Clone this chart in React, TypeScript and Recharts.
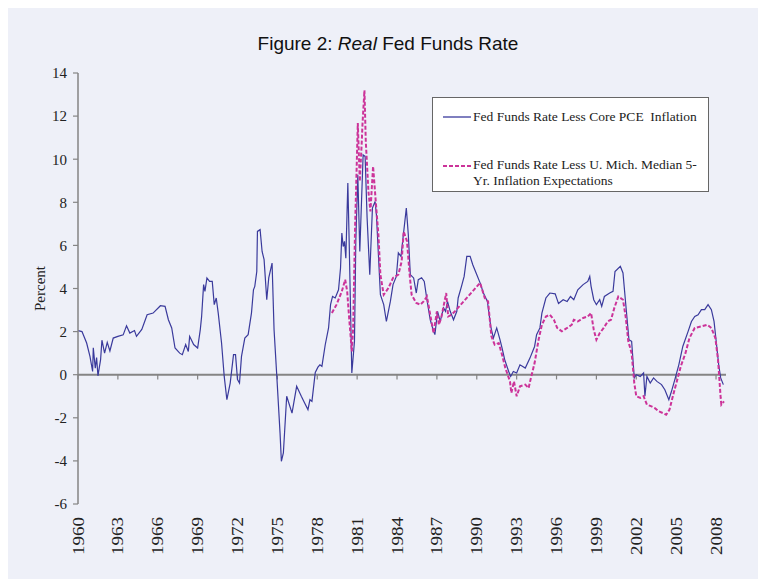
import React from 'react';
import { LineChart, Line, XAxis, YAxis, ReferenceLine, Legend } from 'recharts';

const chartTitle = 'Fed Funds Rate';
const seriesNames = [
  'Fed Funds Rate Less Core PCE  Inflation',
  'Fed Funds Rate Less U. Mich. Median 5-',
  'Yr. Inflation Expectations',
];
const yAxisLabel = 'Percent';

const xTicks = [1960, 1963, 1966, 1969, 1972, 1975, 1978, 1981, 1984, 1987, 1990, 1993, 1996, 1999, 2002, 2005, 2008];
const yTicks = [-6, -4, -2, 0, 2, 4, 6, 8, 10, 12, 14];

const pceYears = [
  1960.0, 1960.3, 1960.65, 1960.9, 1961.1, 1961.15, 1961.3, 1961.4, 1961.5, 1961.7, 1961.8, 1962.0, 1962.2, 1962.4, 1962.65,
  1963.0, 1963.4, 1963.65, 1963.9, 1964.25, 1964.4, 1964.8, 1965.2, 1965.65, 1966.2, 1966.55, 1966.8, 1967.05, 1967.3, 1967.65,
  1967.85, 1968.1, 1968.3, 1968.4, 1968.7, 1969.0, 1969.2, 1969.3, 1969.45, 1969.55, 1969.7, 1969.9, 1970.1, 1970.25, 1970.4,
  1970.55, 1970.8, 1971.0, 1971.2, 1971.45, 1971.7, 1971.85, 1972.0, 1972.15, 1972.3, 1972.55, 1972.8, 1973.05, 1973.2, 1973.3,
  1973.45, 1973.5, 1973.7, 1973.85, 1974.0, 1974.2, 1974.35, 1974.6, 1974.75, 1974.95, 1975.2, 1975.3, 1975.45, 1975.7, 1976.1,
  1976.45, 1976.8, 1977.05, 1977.3, 1977.45, 1977.6, 1977.85, 1978.05, 1978.2, 1978.35, 1978.6, 1978.85, 1979.0, 1979.15, 1979.35,
  1979.6, 1979.75, 1979.85, 1979.95, 1980.05, 1980.15, 1980.3, 1980.4, 1980.6, 1980.8, 1980.9, 1981.05, 1981.2, 1981.45, 1981.6,
  1981.75, 1981.95, 1982.15, 1982.35, 1982.45, 1982.65, 1982.75, 1983.0, 1983.2, 1983.5, 1983.7, 1983.95, 1984.1, 1984.3, 1984.45,
  1984.7, 1984.85, 1985.0, 1985.25, 1985.45, 1985.6, 1985.85, 1986.05, 1986.25, 1986.5, 1986.75, 1986.85, 1987.05, 1987.25, 1987.5,
  1987.65, 1987.8, 1988.0, 1988.25, 1988.5, 1988.6, 1988.85, 1989.05, 1989.25, 1989.5, 1989.7, 1989.95, 1990.25, 1990.5, 1990.8,
  1991.05, 1991.25, 1991.5, 1991.75, 1991.9, 1992.1, 1992.4, 1992.55, 1992.75, 1993.0, 1993.25, 1993.65, 1994.0, 1994.35, 1994.5,
  1994.75, 1994.9, 1995.2, 1995.5, 1995.9, 1996.15, 1996.5, 1996.8, 1997.05, 1997.3, 1997.6, 1998.0, 1998.35, 1998.5, 1998.6,
  1998.8, 1999.0, 1999.25, 1999.4, 1999.6, 2000.0, 2000.25, 2000.4, 2000.8, 2001.0, 2001.2, 2001.45, 2001.65, 2001.85, 2002.0,
  2002.3, 2002.55, 2002.65, 2002.8, 2003.05, 2003.3, 2003.55, 2003.9, 2004.15, 2004.45, 2004.65, 2004.9, 2005.2, 2005.5, 2005.9,
  2006.15, 2006.4, 2006.65, 2006.9, 2007.15, 2007.4, 2007.65, 2007.85, 2008.0, 2008.2, 2008.35, 2008.55,
];
const pceValues = [
  2.05, 2.0, 1.47, 0.85, 0.15, 1.25, 0.3, 0.8, -0.05, 0.7, 1.6, 1.0, 1.5, 1.1, 1.7,
  1.78, 1.85, 2.27, 1.93, 2.05, 1.78, 2.1, 2.78, 2.86, 3.2, 3.17, 2.55, 2.17, 1.24, 1.0,
  0.93, 1.4, 1.08, 1.78, 1.4, 1.24, 2.09, 2.7, 4.18, 3.87, 4.49, 4.33, 4.33, 3.25, 3.56,
  2.86, 1.47, -0.08, -1.16, -0.39, 0.93, 0.93, -0.23, -0.39, 0.85, 1.7, 1.86, 2.86, 3.94, 4.1,
  4.79, 6.65, 6.73, 5.72, 5.34, 3.48, 4.49, 5.18, 2.09, 0.0, -2.7, -4.02, -3.63, -1.0, -1.78,
  -0.54, -1.0, -1.31, -1.62, -1.16, -1.24, 0.1, 0.35, 0.46, 0.39, 1.39, 2.17, 3.25, 3.63, 3.56,
  3.94, 4.95, 6.57, 5.95, 6.19, 5.41, 8.9, 6.19, 0.08, 1.55, 6.19, 9.28, 5.72, 10.2, 10.13,
  7.27, 4.64, 7.73, 8.04, 7.42, 4.95, 3.71, 3.25, 2.47, 3.4, 4.18, 4.56, 5.65, 5.49, 6.34,
  7.73, 6.5, 4.64, 4.49, 3.79, 4.41, 4.5, 4.33, 3.48, 2.55, 2.01, 1.86, 2.94, 2.47, 3.1,
  2.94, 3.4, 2.94, 2.55, 2.94, 3.56, 4.1, 4.56, 5.49, 5.49, 5.1, 4.72, 4.26, 3.79, 3.4,
  2.24, 1.7, 2.17, 1.62, 1.24, 0.7, 0.15, -0.08, 0.15, 0.08, 0.46, 0.31, 0.77, 1.31, 1.86,
  2.17, 2.86, 3.56, 3.79, 3.75, 3.3, 3.48, 3.4, 3.63, 3.48, 3.94, 4.18, 4.33, 4.56, 4.1,
  3.48, 3.25, 3.48, 3.17, 3.63, 3.79, 3.87, 4.79, 5.03, 4.72, 3.33, 1.62, 1.55, -0.15, 0.0,
  -0.08, 0.08, -1.0, -0.08, -0.39, -0.15, -0.31, -0.46, -0.7, -1.16, -0.77, -0.23, 0.46, 1.31, 2.01,
  2.47, 2.7, 2.78, 3.02, 3.02, 3.25, 3.02, 2.47, 1.62, 0.46, -0.15, -0.46,
];

const michYears = [
  1979.1, 1979.45, 1979.85, 1980.1, 1980.25, 1980.4, 1980.6, 1980.7, 1980.85, 1980.95, 1981.05, 1981.2, 1981.35, 1981.4, 1981.55,
  1981.65, 1981.85, 1982.0, 1982.2, 1982.4, 1982.6, 1982.75, 1983.0, 1983.35, 1983.7, 1984.1, 1984.35, 1984.5, 1984.75, 1984.95,
  1985.1, 1985.45, 1985.75, 1986.0, 1986.25, 1986.5, 1986.75, 1987.0, 1987.15, 1987.35, 1987.7, 1987.85, 1988.1, 1988.35, 1990.25,
  1990.6, 1990.85, 1991.1, 1991.35, 1991.65, 1991.9, 1992.15, 1992.5, 1992.6, 1992.8, 1993.0, 1993.25, 1993.65, 1993.9, 1994.1,
  1994.35, 1994.65, 1994.9, 1995.2, 1995.5, 1995.8, 1996.05, 1996.4, 1996.8, 1997.15, 1997.3, 1997.6, 1998.0, 1998.35, 1998.6,
  1998.8, 1999.0, 1999.25, 1999.55, 1999.85, 2000.1, 2000.35, 2000.65, 2001.0, 2001.2, 2001.4, 2001.65, 2001.85, 2002.0, 2002.3,
  2002.55, 2002.8, 2003.15, 2003.4, 2003.7, 2004.0, 2004.25, 2004.5, 2004.75, 2005.05, 2005.35, 2005.7, 2006.0, 2006.4, 2006.9,
  2007.35, 2007.65, 2007.95, 2008.15, 2008.35, 2008.4, 2008.6,
];
const michValues = [
  2.86, 3.25, 3.87, 4.41, 3.87, 2.63, 1.08, 2.17, 6.96, 9.28, 11.68, 8.97, 10.83, 11.6, 13.2,
  10.83, 8.5, 7.58, 9.67, 8.04, 6.5, 4.64, 3.71, 4.02, 4.49, 4.64, 5.26, 6.65, 6.19, 4.64,
  3.71, 3.33, 3.25, 3.4, 3.63, 2.78, 1.93, 2.94, 2.32, 2.7, 3.79, 2.7, 2.78, 2.94, 4.26,
  3.56, 3.4, 1.78, 1.39, 1.47, 0.93, 0.31, -0.31, -0.85, -0.31, -1.0, -0.54, -0.46, -0.62, -0.08,
  0.54, 1.62, 2.32, 2.7, 2.78, 2.55, 2.17, 2.01, 2.17, 2.32, 2.55, 2.47, 2.63, 2.7, 2.86,
  2.09, 1.62, 1.93, 2.17, 2.47, 2.55, 3.1, 3.63, 3.48, 2.7, 1.55, 1.0, -0.39, -1.0, -1.08,
  -1.0, -1.39, -1.47, -1.55, -1.7, -1.78, -1.86, -1.62, -1.0, -0.31, 0.39, 1.0, 1.7, 2.17, 2.24,
  2.32, 2.17, 1.7, 0.7, -1.08, -1.39, -1.24,
];

const pceData = pceYears.map((year, i) => ({ year, value: pceValues[i] }));
const michData = michYears.map((year, i) => ({ year, value: michValues[i] }));

const BLUE = '#3a3a9c';
const PINK = '#cc3399';
const AXIS = '#858585';
const SERIF = '"Liberation Serif", "Times New Roman", serif';
const SANS = '"Liberation Sans", Arial, sans-serif';

const YearTick = (props: any) => {
  const { x, y, payload } = props;
  return (
    <text
      x={x}
      y={y}
      transform={`rotate(-90, ${x}, ${y})`}
      textAnchor="end"
      dy="0.35em"
      fontFamily={SERIF}
      fontSize={16}
      fill="#222"
      textLength={38}
      lengthAdjust="spacingAndGlyphs"
    >
      {payload.value}
    </text>
  );
};

const LegendBox = () => (
  <div
    style={{
      position: 'relative',
      width: 277,
      height: 95,
      boxSizing: 'border-box',
      background: '#ffffff',
      border: '1px solid #666',
      fontFamily: SERIF,
      fontSize: 13.5,
      color: '#222',
    }}
  >
    <svg style={{ position: 'absolute', left: 10, top: 14 }} width={28} height={10}>
      <line x1={0} y1={5} x2={28} y2={5} stroke={BLUE} strokeWidth={1.3} />
    </svg>
    <div style={{ position: 'absolute', left: 40, top: 10, lineHeight: '18px', whiteSpace: 'pre' }}>{seriesNames[0]}</div>
    <svg style={{ position: 'absolute', left: 10, top: 63 }} width={28} height={10}>
      <line x1={0} y1={5} x2={28} y2={5} stroke={PINK} strokeWidth={2} strokeDasharray="4 2" />
    </svg>
    <div style={{ position: 'absolute', left: 40, top: 59, lineHeight: '16px', whiteSpace: 'pre' }}>
      {seriesNames[1]}
      <br />
      {seriesNames[2]}
    </div>
  </div>
);

export default function App() {
  return (
    <div
      style={{
        position: 'relative',
        width: 766,
        height: 574,
        marginLeft: -8,
        marginTop: -3,
        background: '#eef0f8',
      }}
    >
      <div
        style={{
          position: 'absolute',
          top: 29,
          left: 5,
          width: 766,
          textAlign: 'center',
          fontFamily: SANS,
          fontSize: 19,
          lineHeight: '19px',
          color: '#111',
        }}
      >
        Figure 2: <i>Real</i> {chartTitle}
      </div>
      <LineChart width={766} height={574} margin={{ top: 68, right: 40, bottom: 15, left: 20 }}>
        <XAxis
          dataKey="year"
          type="number"
          domain={[1960, 2008.75]}
          ticks={xTicks}
          interval={0}
          allowDataOverflow
          axisLine={false}
          tickLine={false}
          tickSize={0}
          tickMargin={13}
          height={60}
          tick={<YearTick />}
        />
        <YAxis
          type="number"
          domain={[-6, 14]}
          ticks={yTicks}
          interval={0}
          width={58}
          axisLine={{ stroke: AXIS, strokeWidth: 1.5 }}
          tickLine={{ stroke: AXIS, strokeWidth: 1.2 }}
          tickSize={5}
          tickMargin={6}
          tick={{ fontSize: 15, fill: '#222', fontFamily: SERIF }}
          label={{ value: yAxisLabel, angle: -90, position: 'center', dx: -9, style: { fontSize: 15, fill: '#222', fontFamily: SERIF } }}
        />
        <ReferenceLine y={0} stroke={AXIS} strokeWidth={2} />
        {xTicks.map((t) => (
          <ReferenceLine
            key={t}
            segment={[
              { x: t, y: 0 },
              { x: t, y: -0.22 },
            ]}
            stroke={AXIS}
            strokeWidth={1.2}
          />
        ))}
        <Legend
          layout="horizontal"
          verticalAlign="middle"
          align="center"
          wrapperStyle={{ left: 432, top: 92, width: 277, height: 95 }}
          content={() => <LegendBox />}
        />
        <Line
          data={pceData}
          dataKey="value"
          type="linear"
          stroke={BLUE}
          strokeWidth={1.2}
          dot={false}
          activeDot={false}
          isAnimationActive={false}
          name={seriesNames[0]}
        />
        <Line
          data={michData}
          dataKey="value"
          type="linear"
          stroke={PINK}
          strokeWidth={2}
          strokeDasharray="4 2"
          dot={false}
          activeDot={false}
          isAnimationActive={false}
          name={seriesNames[1]}
        />
      </LineChart>
    </div>
  );
}
